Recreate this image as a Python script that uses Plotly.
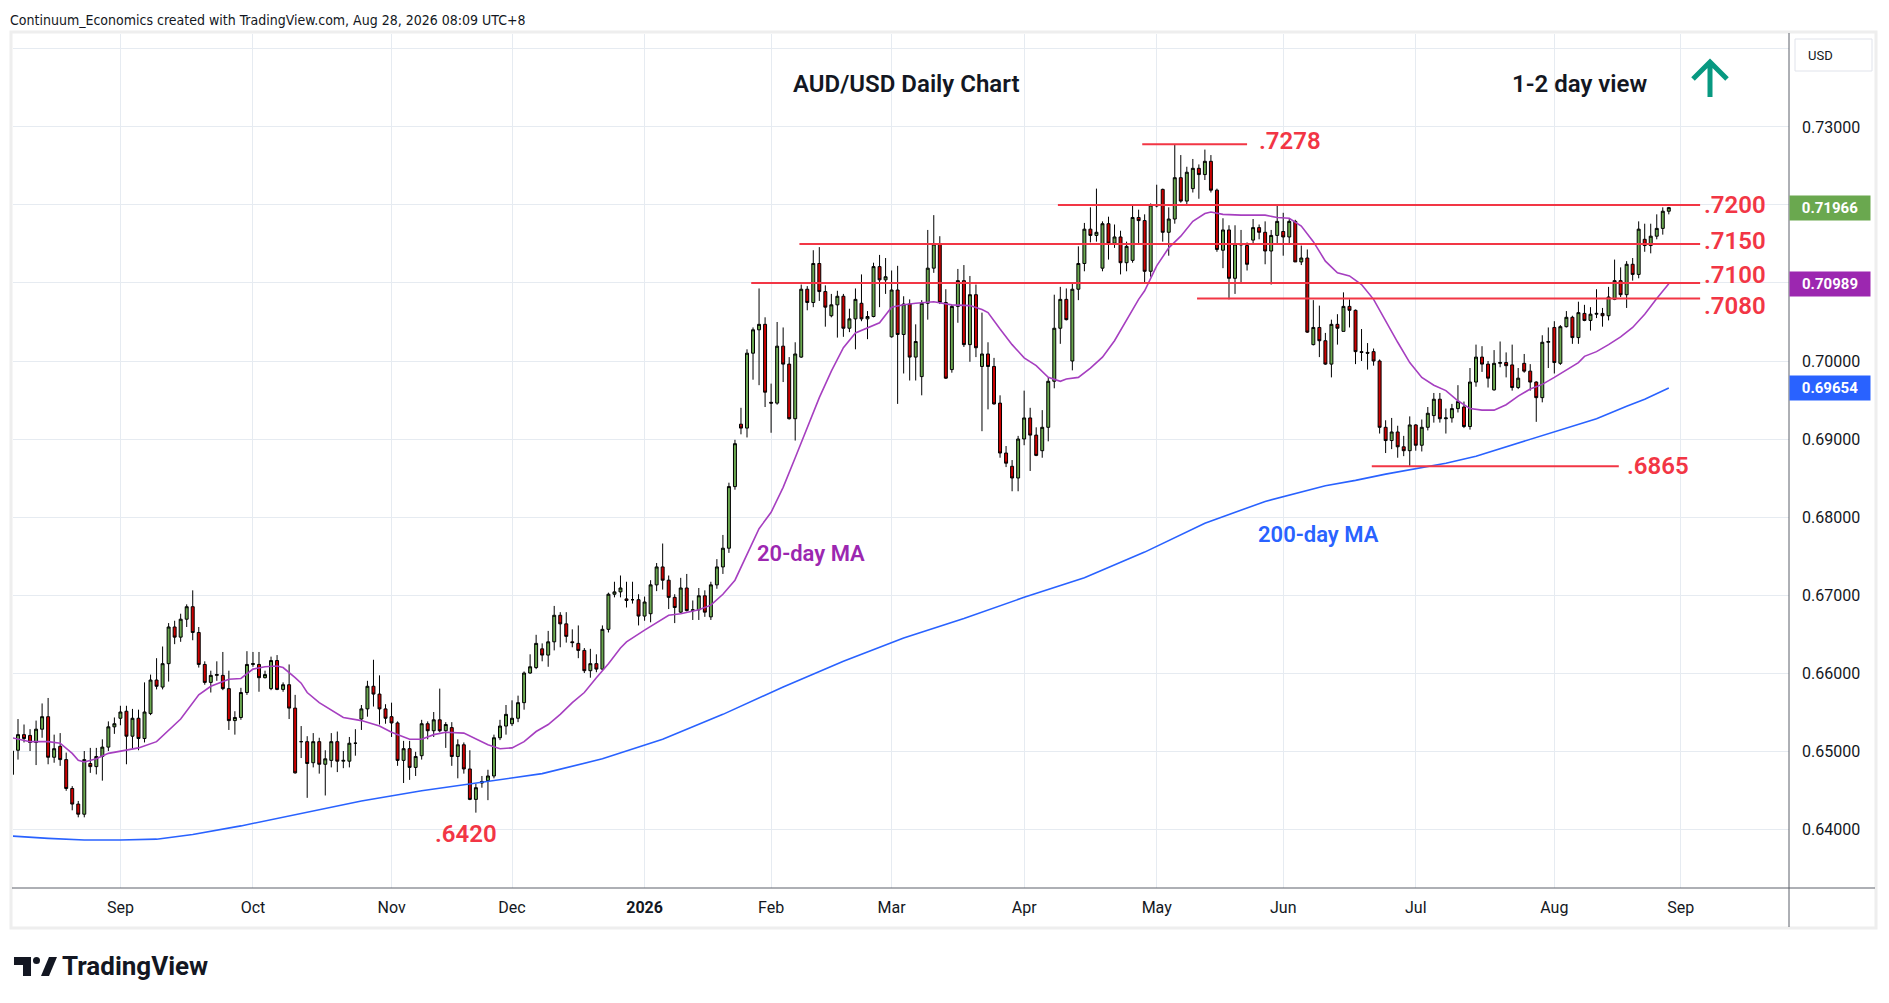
import pandas as pd
import plotly.graph_objects as go

# ---------------- data ----------------
holidays = ["2025-12-25", "2026-01-01"]

open_ = [
    # Aug 2025
    .6470, .6501, .6521, .6520, .6511, .6528, .6544, .6492, .6506, .6489, .6452, .6432, .6419, .6484, .6480, .6493, .6505, .6531,
    # Sep
    .6542, .6551, .6519, .6542, .6516, .6548, .6591, .6582, .6612, .6659, .6646, .6669, .6685, .6652, .6611, .6588, .6597, .6597, .6580, .6539, .6543, .6575,
    # Oct
    .6611, .6611, .6594, .6580, .6616, .6579, .6585, .6555, .6512, .6512, .6485, .6512, .6483, .6488, .6512, .6487, .6487, .6510, .6541, .6554, .6583, .6573, .6554,
    # Nov
    .6544, .6536, .6488, .6503, .6479, .6494, .6535, .6526, .6540, .6526, .6530, .6493, .6508, .6477, .6438, .6459, .6462, .6468, .6517, .6532,
    # Dec
    .6535, .6542, .6562, .6600, .6607, .6631, .6623, .6640, .6674, .6663, .6640, .6638, .6629, .6603, .6612, .6605, .6656, .6701, .6704, .6695, .6694, .6694,
    # Jan 2026
    .6673, .6676, .6713, .6736, .6719, .6697, .6678, .6709, .6680, .6681, .6699, .6672, .6713, .6736, .6760, .6839, .6919, .6914, .7010, .7040, .7047,
    # Feb
    .6947, .6946, .7019, .6996, .6926, .7005, .7092, .7075, .7125, .7089, .7058, .7072, .7083, .7042, .7054, .7074, .7054, .7057, .7121, .7104,
    # Mar
    .7031, .7091, .7034, .7073, .7005, .6980, .7074, .7119, .7150, .7075, .6989, .7070, .7103, .7021, .7085, .6993, .7009, .6993, .6946, .6882, .6865, .6850,
    # Apr
    .6900, .6927, .6905, .6885, .6915, .6974, .7042, .7079, .7000, .7092, .7125, .7169, .7161, .7119, .7176, .7151, .7159, .7126, .7129, .7184, .7180, .7115,
    # May
    .7200, .7220, .7165, .7182, .7235, .7205, .7221, .7247, .7239, .7256, .7219, .7142, .7168, .7106, .7150, .7148, .7155, .7171, .7165, .7141, .7161,
    # Jun
    .7166, .7159, .7179, .7127, .7132, .7021, .7043, .7026, .6996, .7047, .7038, .7070, .7065, .7012, .7011, .7012, .7000, .6915, .6898, .6909, .6890, .6885,
    # Jul
    .6918, .6892, .6915, .6930, .6951, .6926, .6927, .6939, .6941, .6916, .6973, .7005, .6996, .6963, .6997, .6998, .6995, .6966, .6997, .6987, .6973, .6953, .7024,
    # Aug
    .7043, .6997, .7044, .7056, .7030, .7061, .7052, .7060, .7061, .7058, .7079, .7103, .7085, .7124, .7111, .7156, .7148, .7160, .7170, .7192,
]

high = [
    .6505, .6541, .6534, .6528, .6539, .6561, .6568, .6521, .6523, .6498, .6455, .6436, .6500, .6504, .6504, .6515, .6538, .6543,
    .6558, .6558, .6554, .6553, .6588, .6598, .6619, .6634, .6664, .6667, .6676, .6688, .6706, .6659, .6615, .6603, .6615, .6627, .6603, .6551, .6581, .6628,
    .6627, .6627, .6603, .6621, .6623, .6588, .6611, .6572, .6532, .6519, .6523, .6517, .6501, .6523, .6525, .6500, .6518, .6528, .6559, .6590, .6617, .6597, .6560,
    .6562, .6538, .6513, .6513, .6499, .6540, .6538, .6550, .6580, .6537, .6537, .6515, .6511, .6501, .6458, .6468, .6476, .6521, .6540, .6559,
    .6565, .6571, .6602, .6624, .6649, .6638, .6654, .6686, .6678, .6678, .6656, .6661, .6632, .6631, .6624, .6661, .6703, .6717, .6725, .6717, .6717, .6701,
    .6698, .6719, .6741, .6766, .6725, .6701, .6722, .6727, .6693, .6709, .6706, .6717, .6746, .6777, .6844, .6899, .6940, .7015, .7043, .7093, .7056,
    .6971, .7050, .7043, .7005, .7024, .7098, .7096, .7142, .7146, .7097, .7086, .7090, .7086, .7067, .7093, .7111, .7064, .7126, .7136, .7132,
    .7116, .7122, .7083, .7079, .7047, .7078, .7168, .7187, .7160, .7092, .7072, .7118, .7123, .7109, .7098, .7062, .7024, .7004, .6956, .6891, .6873, .6904,
    .6962, .6940, .6915, .6937, .6979, .7085, .7095, .7093, .7099, .7147, .7177, .7197, .7221, .7179, .7185, .7175, .7167, .7153, .7200, .7194, .7188, .7202,
    .7226, .7221, .7197, .7278, .7264, .7249, .7259, .7252, .7271, .7264, .7221, .7183, .7174, .7174, .7168, .7152, .7182, .7175, .7179, .7168, .7200,
    .7190, .7182, .7181, .7148, .7143, .7078, .7071, .7036, .7053, .7060, .7088, .7079, .7066, .7041, .7023, .7016, .7002, .6924, .6927, .6917, .6904, .6929,
    .6919, .6925, .6941, .6959, .6959, .6939, .6945, .6969, .6948, .6991, .7021, .7019, .7000, .7014, .7025, .7011, .7021, .6991, .7009, .6996, .6974, .7033, .7043,
    .7051, .7046, .7064, .7058, .7076, .7072, .7069, .7092, .7068, .7095, .7130, .7120, .7128, .7132, .7179, .7176, .7176, .7188, .7197, .71975,
]

low = [
    .6465, .6489, .6511, .6500, .6482, .6517, .6483, .6485, .6481, .6449, .6424, .6415, .6415, .6472, .6470, .6462, .6500, .6522,
    .6533, .6483, .6503, .6501, .6511, .6546, .6579, .6579, .6589, .6637, .6640, .6659, .6642, .6607, .6585, .6575, .6590, .6578, .6527, .6521, .6540, .6572,
    .6608, .6576, .6593, .6578, .6578, .6576, .6541, .6471, .6491, .6440, .6479, .6471, .6443, .6479, .6473, .6478, .6479, .6494, .6527, .6544, .6557, .6534, .6535,
    .6518, .6481, .6459, .6463, .6468, .6489, .6515, .6518, .6524, .6504, .6481, .6465, .6471, .6437, .6421, .6453, .6437, .6465, .6514, .6521,
    .6532, .6537, .6553, .6599, .6605, .6615, .6608, .6629, .6633, .6639, .6633, .6619, .6600, .6594, .6601, .6604, .6652, .6697, .6697, .6684, .6689, .6661,
    .6667, .6665, .6705, .6707, .6682, .6664, .6677, .6679, .6668, .6668, .6672, .6668, .6708, .6727, .6754, .6835, .6906, .6902, .6976, .6969, .6941,
    .6908, .6944, .6973, .6925, .6898, .7004, .7065, .7069, .7077, .7044, .7056, .7030, .7031, .7037, .7015, .7051, .7028, .7056, .7069, .7086,
    .7030, .6945, .6984, .6975, .6975, .6956, .7053, .7113, .7073, .6977, .6985, .7049, .7018, .6999, .7005, .6910, .6938, .6944, .6876, .6864, .6833, .6833,
    .6892, .6859, .6878, .6876, .6897, .6965, .7022, .7052, .6988, .7078, .7115, .7152, .7153, .7115, .7130, .7145, .7111, .7115, .7126, .7150, .7100, .7108,
    .7197, .7153, .7135, .7176, .7203, .7201, .7216, .7208, .7232, .7216, .7140, .7119, .7079, .7086, .7099, .7116, .7150, .7156, .7124, .7098, .7150,
    .7135, .7150, .7127, .7123, .7036, .7020, .7005, .6995, .6979, .7021, .7038, .7043, .6996, .7000, .6989, .6994, .6907, .6882, .6887, .6876, .6878, .6865,
    .6885, .6884, .6911, .6921, .6921, .6907, .6921, .6934, .6914, .6912, .6967, .6986, .6966, .6962, .6992, .6979, .6962, .6964, .6985, .6962, .6922, .6947, .6991,
    .6984, .6995, .7043, .7022, .7022, .7051, .7039, .7055, .7044, .7052, .7078, .7082, .7068, .7103, .7106, .7140, .7138, .7156, .7162, .7188,
]

close = [
    .6500, .6521, .6516, .6511, .6528, .6544, .6492, .6503, .6489, .6452, .6432, .6419, .6489, .6480, .6493, .6505, .6531, .6535,
    .6550, .6519, .6542, .6516, .6550, .6591, .6583, .6612, .6659, .6646, .6669, .6685, .6652, .6611, .6588, .6597, .6598, .6580, .6539, .6543, .6575, .6611,
    .6612, .6594, .6598, .6616, .6579, .6585, .6555, .6472, .6512, .6484, .6512, .6483, .6490, .6512, .6487, .6488, .6510, .6510, .6554, .6583, .6573, .6554, .6542,
    .6536, .6488, .6503, .6479, .6493, .6535, .6526, .6540, .6526, .6534, .6493, .6508, .6477, .6438, .6453, .6461, .6468, .6517, .6532, .6547,
    .6542, .6562, .6600, .6608, .6638, .6623, .6640, .6674, .6663, .6647, .6639, .6629, .6603, .6612, .6605, .6656, .6701, .6704, .6709, .6693, .6694, .6673,
    .6691, .6713, .6736, .6719, .6697, .6684, .6709, .6680, .6681, .6699, .6678, .6713, .6736, .6760, .6839, .6894, .6914, .7010, .7040, .7047, .6960,
    .6946, .7019, .6996, .6926, .7009, .7092, .7075, .7125, .7089, .7069, .7072, .7083, .7042, .7054, .7079, .7054, .7057, .7121, .7104, .7108,
    .7091, .7034, .7073, .7005, .7025, .7074, .7119, .7150, .7075, .6978, .7070, .7103, .7021, .7085, .7017, .7009, .6993, .6945, .6882, .6869, .6850, .6900,
    .6927, .6905, .6879, .6915, .6974, .7042, .7079, .7053, .7092, .7125, .7169, .7161, .7165, .7176, .7151, .7159, .7126, .7147, .7184, .7180, .7115, .7200,
    .7199, .7165, .7182, .7235, .7205, .7242, .7247, .7239, .7256, .7219, .7143, .7168, .7106, .7150, .7149, .7124, .7171, .7165, .7141, .7161, .7179,
    .7159, .7179, .7127, .7132, .7037, .7043, .7026, .6996, .7047, .7042, .7070, .7065, .7012, .7011, .7010, .7000, .6915, .6898, .6909, .6890, .6885, .6918,
    .6892, .6915, .6933, .6951, .6926, .6927, .6939, .6948, .6916, .6973, .7005, .6996, .6978, .6997, .6998, .6994, .6966, .6978, .6987, .6973, .6953, .7024, .7025,
    .6998, .7044, .7056, .7030, .7062, .7052, .7060, .7061, .7058, .7082, .7103, .7085, .7124, .7111, .7169, .7148, .7160, .7170, .7192, .71966,
]

# 20-day MA (bar number, value)
ma20_bar = [0, 3, 6, 8, 10, 11, 12, 14, 16, 18, 21, 24, 26, 28, 31, 33, 36, 38, 40, 42, 44, 45, 47, 48, 49,
            51, 55, 58, 61, 63, 66, 68, 70, 72, 75, 77, 79, 81, 83, 85, 87, 89, 91, 93, 95, 97, 99, 101, 102,
            105, 109, 111, 114, 116, 118, 120, 122, 124, 126, 128, 130, 132, 134, 136, 138, 140, 142, 144, 146,
            148, 150, 153, 156, 159, 161, 162, 164, 166, 168, 170, 172, 174, 175, 177, 179, 181, 183, 185, 187,
            188, 189, 190, 192, 194, 196, 198, 199, 201, 204, 208, 210, 212, 214, 216, 218, 220, 222, 224, 226,
            228, 230, 232, 234, 236, 238, 240, 242, 244, 246, 248, 250, 252, 254, 256, 258, 260, 261, 263, 265,
            267, 269, 271, 273, 275]
ma20_val = [.6517, .6512, .6512, .6510, .6497, .6488, .6486, .6490, .6497, .6500, .6504, .6512, .6526, .6541, .6572,
            .6583, .6592, .6593, .6605, .6608, .6609, .6607, .6594, .6587, .6575,
            .6562, .6543, .6539, .6532, .6524, .6515, .6515, .6521, .6524, .6523, .6515, .6508, .6503, .6504, .6512,
            .6525, .6534, .6547, .6562, .6575, .6594, .6612, .6632, .6640,
            .6655, .6674, .6676, .6681, .6687, .6701, .6719, .6753, .6785, .6806, .6838, .6876, .6915, .6953, .6987,
            .7017, .7036, .7043, .7049, .7069,
            .7072, .7074, .7076, .7072, .7071, .7066, .7062, .7041, .7021, .7004, .6994, .6979, .6974, .6977, .6979,
            .6991, .7005, .7026, .7052, .7079,
            .7090, .7107, .7122, .7145, .7160, .7179, .7189, .7191, .7188, .7187, .7187, .7184, .7183, .7173, .7153,
            .7128, .7113, .7109, .7098, .7079,
            .7051, .7024, .6998, .6979, .6969, .6962, .6949, .6939, .6937, .6937, .6944, .6955, .6964, .6970, .6979,
            .6989, .6998, .7006, .7012, .7021,
            .7031, .7043, .7060, .7080, .70989]

# 200-day MA
ma200_bar = [0, 6, 12, 18, 24, 30, 38, 48, 58, 68, 78, 88, 98, 108, 118, 128, 138, 148, 158, 168,
             178, 188, 198, 208, 218, 223, 228, 233, 238, 243, 248, 253, 258, 263, 268, 271, 275]
ma200_val = [.6391, .6388, .6386, .6386, .6387, .6393, .6404, .6420, .6436, .6449, .6460, .6471, .6490, .6515,
             .6547, .6582, .6615, .6645, .6670, .6697, .6722, .6755, .6792, .6820, .6840, .6847, .6855, .6862,
             .6869, .6878, .6890, .6902, .6914, .6926, .6942, .6951, .69654]

# horizontal levels drawn by the analyst
levels = [0.7278, 0.7200, 0.7150, 0.7100, 0.7080, 0.6865]
level_text = [".7278", ".7200", ".7150", ".7100", ".7080", ".6865"]
level_start = [187.6, 173.6, 130.7, 122.7, 196.7, 225.7]
level_end = [205.0, 280.2, 280.2, 280.2, 280.2, 266.7]
level_label_x = [206.7, 280.5, 280.5, 280.5, 280.5, 267.7]
level_label_shift = [3, 0, 3, 8, -7, 0]

low_label = ".6420"

y_ticks = [0.64, 0.65, 0.66, 0.67, 0.68, 0.69, 0.70, 0.71, 0.72, 0.73, 0.74]
y_labels = ["0.64000", "0.65000", "0.66000", "0.67000", "0.68000", "0.69000", "0.70000", "", "", "0.73000", ""]

# ---------------- geometry ----------------
W, H = 1889, 1003
L_PX, R_PX, T_PX, B_PX = 13, 1789, 34, 888


def px(x):
    return (x - L_PX) / (R_PX - L_PX)


def py(y):
    return (B_PX - y) / (B_PX - T_PX)


def ppath(points, close_path=False):
    s = " ".join(("M" if i == 0 else "L") + f" {px(a):.5f},{py(b):.5f}" for i, (a, b) in enumerate(points))
    return s + (" Z" if close_path else "")


dates = pd.bdate_range("2025-08-06", "2026-08-28")
dates = dates[~dates.isin(pd.to_datetime(holidays))]
assert len(dates) == len(open_) == len(high) == len(low) == len(close), (len(dates), len(open_), len(high), len(low), len(close))
bars = list(range(len(dates)))

future = pd.bdate_range("2026-08-31", "2026-09-30")
all_dates = dates.append(future)
tickvals, ticktext = [], []
for k in range(1, len(all_dates)):
    if all_dates[k].month != all_dates[k - 1].month:
        tickvals.append(k)
        d = all_dates[k]
        ticktext.append("<b>2026</b>" if d.month == 1 else d.strftime("%b"))

GRID = "#e6ebf1"
RED = "#f23645"
FONT = "Roboto, 'Open Sans', Arial, sans-serif"

fig = go.Figure()
fig.add_trace(go.Candlestick(
    x=bars, open=open_, high=high, low=low, close=close,
    increasing=dict(fillcolor="#6aa84f", line=dict(color="#000000", width=1)),
    decreasing=dict(fillcolor="#cc0000", line=dict(color="#000000", width=1)),
    whiskerwidth=0, showlegend=False, hoverinfo="skip"))
fig.add_trace(go.Scatter(x=ma200_bar, y=ma200_val, mode="lines",
                         line=dict(color="#2962ff", width=1.6), hoverinfo="skip", showlegend=False))
fig.add_trace(go.Scatter(x=ma20_bar, y=ma20_val, mode="lines",
                         line=dict(color="#a63fc0", width=1.6), hoverinfo="skip", showlegend=False))

shapes = []
for lv, x0, x1 in zip(levels, level_start, level_end):
    shapes.append(dict(type="line", xref="x", yref="y", x0=x0, x1=x1, y0=lv, y1=lv,
                       line=dict(color=RED, width=2)))

# frame / axes lines
shapes.append(dict(type="rect", xref="paper", yref="paper", x0=px(11), x1=px(1876), y0=py(928), y1=py(32),
                   line=dict(color="#eeeeee", width=3), layer="below"))
shapes.append(dict(type="line", xref="paper", yref="paper", x0=px(R_PX), x1=px(R_PX), y0=py(927), y1=py(33),
                   line=dict(color="#5d606b", width=1)))
shapes.append(dict(type="line", xref="paper", yref="paper", x0=px(12), x1=px(1875), y0=py(B_PX), y1=py(B_PX),
                   line=dict(color="#5d606b", width=1)))
# USD box
shapes.append(dict(type="rect", xref="paper", yref="paper", x0=px(1795), x1=px(1872), y0=py(71), y1=py(39),
                   line=dict(color="#e0e3eb", width=1), fillcolor="white"))
# up arrow
shapes.append(dict(type="path", xref="paper", yref="paper",
                   path=ppath([(1710, 97), (1710, 63)]) + " " + ppath([(1693, 79), (1710, 62), (1727, 79)]),
                   line=dict(color="#089981", width=5)))
# TradingView logo mark
shapes.append(dict(type="path", xref="paper", yref="paper",
                   path=ppath([(14, 957), (31, 957), (31, 976), (23, 976), (23, 965), (14, 965)], True),
                   fillcolor="#131722", line=dict(width=0)))
shapes.append(dict(type="circle", xref="paper", yref="paper", x0=px(33), x1=px(40), y0=py(964), y1=py(957),
                   fillcolor="#131722", line=dict(width=0)))
shapes.append(dict(type="path", xref="paper", yref="paper",
                   path=ppath([(41, 976), (49, 957), (57, 957), (49, 976)], True),
                   fillcolor="#131722", line=dict(width=0)))

ann = []
for lv, txt, lx, sh in zip(levels, level_text, level_label_x, level_label_shift):
    ann.append(dict(x=lx, y=lv, xref="x", yref="y", text=txt, showarrow=False, xanchor="left", yanchor="middle",
                    yshift=sh, font=dict(color=RED, size=24, family=FONT, weight=600)))
low_bar = min(range(60, 90), key=lambda k: low[k])
ann.append(dict(x=low_bar, y=low[low_bar], xref="x", yref="y", text=low_label, showarrow=False,
                xanchor="center", yanchor="middle", xshift=-10, yshift=-21,
                font=dict(color=RED, size=24, family=FONT, weight=600)))

ann.append(dict(x=px(906), y=py(84), xref="paper", yref="paper", text="AUD/USD Daily Chart", showarrow=False,
                xanchor="center", yanchor="middle", font=dict(size=24, color="#131722", family=FONT, weight=600)))
ann.append(dict(x=px(1579), y=py(84), xref="paper", yref="paper", text="1-2 day view", showarrow=False,
                xanchor="center", yanchor="middle", font=dict(size=24, color="#131722", family=FONT, weight=600)))
ann.append(dict(x=px(811), y=py(553), xref="paper", yref="paper", text="20-day MA", showarrow=False,
                xanchor="center", yanchor="middle", font=dict(size=22, color="#9c27b0", family=FONT, weight=600)))
ann.append(dict(x=px(1318), y=py(534), xref="paper", yref="paper", text="200-day MA", showarrow=False,
                xanchor="center", yanchor="middle", font=dict(size=22, color="#2962ff", family=FONT, weight=600)))

ann.append(dict(x=px(8), y=py(20), xref="paper", yref="paper",
                text="Continuum_Economics created with TradingView.com, Aug 28, 2026 08:09 UTC+8",
                showarrow=False, xanchor="left", yanchor="middle",
                font=dict(size=14, color="#131722",
                          family="'Liberation Sans Narrow', 'DejaVu Sans Condensed', 'Roboto Condensed', Roboto, sans-serif")))
ann.append(dict(x=px(60), y=py(966), xref="paper", yref="paper", text="TradingView", showarrow=False,
                xanchor="left", yanchor="middle", font=dict(size=26, color="#131722", family=FONT, weight=700)))
ann.append(dict(x=px(1806), y=py(55), xref="paper", yref="paper", text="USD", showarrow=False,
                xanchor="left", yanchor="middle", font=dict(size=13, color="#131722", family=FONT)))

for v, c in [(close[-1], "#6aa84f"), (ma20_val[-1], "#9c27b0"), (ma200_val[-1], "#2962ff")]:
    ann.append(dict(x=1, xref="paper", y=v, yref="y", xanchor="left", yanchor="middle",
                    text=f"<b>{v:.5f}</b>", showarrow=False, bgcolor=c, width=78, height=22, borderpad=1,
                    align="center", font=dict(color="white", size=15, family=FONT)))

fig.update_layout(
    width=W, height=H, autosize=False,
    margin=dict(l=L_PX, r=W - R_PX, t=T_PX, b=H - B_PX, pad=0),
    paper_bgcolor="white", plot_bgcolor="white", showlegend=False,
    font=dict(family=FONT, color="#131722"),
    xaxis=dict(range=[0.17, 294.95], tickvals=tickvals, ticktext=ticktext, showgrid=True, gridcolor=GRID,
               gridwidth=1, zeroline=False, showline=False, ticks="", tickfont=dict(size=16, color="#131722"),
               ticklabelstandoff=8, rangeslider=dict(visible=False), fixedrange=True),
    yaxis=dict(side="right", range=[0.63244, 0.74192], tickvals=y_ticks, ticktext=y_labels, showgrid=True,
               gridcolor=GRID, gridwidth=1, zeroline=False, showline=False, ticks="",
               tickfont=dict(size=16, color="#131722"), ticklabelstandoff=12, fixedrange=True),
    shapes=shapes, annotations=ann,
)

fig.write_html("out.html", config={"displayModeBar": False},
               post_script="document.body.style.margin='0';document.body.style.overflow='hidden';")
